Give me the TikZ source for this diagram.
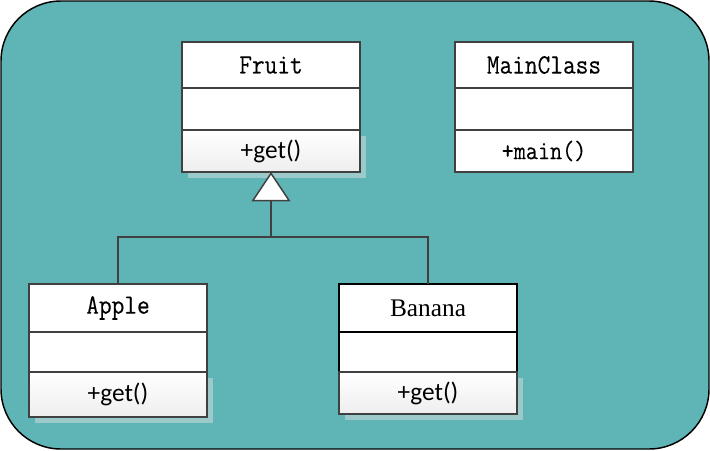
\documentclass[tikz,border=0pt]{standalone}
\usepackage{fontspec}
\newfontfamily\calibrifont{Carlito}
\newfontfamily\timesfont{Liberation Serif}
\newfontfamily\simfont{Latin Modern Mono}[FakeStretch=0.88, FakeBold=0.25]
\usetikzlibrary{positioning,arrows.meta,shadows}
\definecolor{bgteal}{RGB}{95,180,181}
\definecolor{shadowteal}{RGB}{156,202,202}
\definecolor{linegrey}{RGB}{64,64,64}
\definecolor{opgrey}{RGB}{238,238,238}
\tikzset{
  classrow/.style={draw=linegrey, line width=1.5pt, fill=white, minimum width=133.5pt,
    inner sep=0pt, outer sep=0pt, font=\fontsize{21}{22}\simfont},
  titlerow/.style={classrow, minimum height=34.5pt},
  fieldrow/.style={classrow, minimum height=31.5pt},
  oprow/.style={classrow, minimum height=31.5pt, top color=white, bottom color=opgrey,
    drop shadow={shadow xshift=4.5pt, shadow yshift=-4.5pt, fill=shadowteal, opacity=1},
    font=\fontsize{19}{20}\calibrifont},
  link/.style={draw=linegrey, line width=1.1pt}
}
\begin{document}
\begin{tikzpicture}[x=0.75pt,y=-0.75pt]
  \useasboundingbox (0,0) rectangle (710,450);
  \draw[fill=bgteal, line width=1.1pt, rounded corners=45pt] (1,1) rectangle (709,449);

  % Fruit
  \node[titlerow, anchor=north west] (fruit) at (182,42) {Fruit};
  \node[fieldrow, below=0pt of fruit] (fruitattr) {};
  \node[oprow, below=0pt of fruitattr] (fruitop) {+get()};

  % MainClass
  \node[titlerow, anchor=north west] (main) at (455,42) {MainClass};
  \node[fieldrow, below=0pt of main] (mainattr) {};
  \node[fieldrow, below=0pt of mainattr, font=\fontsize{20}{22}\simfont] (mainop) {+main()};

  % Apple
  \node[titlerow, minimum height=36pt, anchor=north west] (apple) at (29,284) {Apple};
  \node[fieldrow, minimum height=30pt, below=0pt of apple] (appleattr) {};
  \node[oprow, minimum height=33.75pt, below=0pt of appleattr] (appleop) {+get()};

  % Banana
  \node[titlerow, draw=black, minimum height=36pt, anchor=north west,
    font=\fontsize{19}{20}\timesfont] (banana) at (339,284) {Banana};
  \node[fieldrow, draw=black, minimum height=30pt, below=0pt of banana] (bananaattr) {};
  \node[oprow, below=0pt of bananaattr] (bananaop) {+get()};

  % inheritance
  \coordinate (fork) at (271,237);
  \draw[link] (apple.north) |- (fork) -| (banana.north);
  \draw[link, -{Triangle[open, fill=white, length=22pt, width=29pt]}] (fork) -- (fruitop.south);
\end{tikzpicture}
\end{document}
